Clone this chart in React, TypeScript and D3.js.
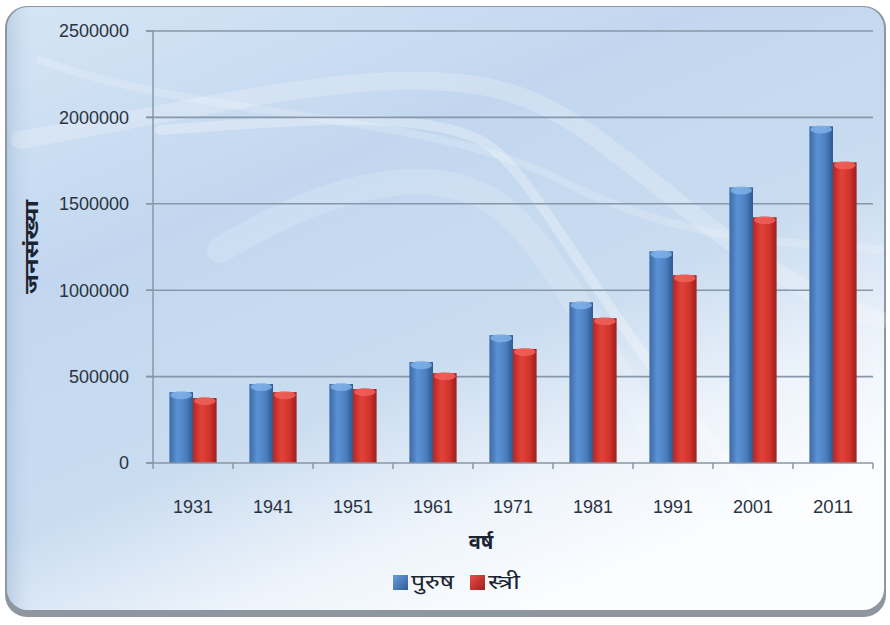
import * as d3 from "d3";

const years = ["1931", "1941", "1951", "1961", "1971", "1981", "1991", "2001", "2011"];
const male = [410000, 457000, 457000, 584000, 740000, 930000, 1225000, 1595000, 1948000];
const female = [376000, 410000, 428000, 520000, 660000, 838000, 1087000, 1422000, 1740000];
const yTicks = [0, 500000, 1000000, 1500000, 2000000, 2500000];
const seriesNames = ["पुरुष", "स्त्री"];

const W = 890;
const H = 625;
const left = 153;
const right = 873;
const top = 31;
const bottom = 463;

const font = "Arial, 'Liberation Sans', sans-serif";
const devFont = "'Noto Sans', 'Noto Sans Devanagari', sans-serif";

export default function App() {
  const x0 = d3.scaleBand<string>().domain(years).range([left, right]).paddingInner(0.41).paddingOuter(0.205);
  const x1 = d3.scaleBand<number>().domain([0, 1]).range([0, x0.bandwidth()]);
  const y = d3.scaleLinear().domain([0, 2500000]).range([bottom, top]);
  const half = (x0.step() - x0.bandwidth()) / 2;
  const bounds = years.map((d) => (x0(d) as number) - half).concat([(x0(years[years.length - 1]) as number) + x0.bandwidth() + half]);

  const series = [male, female];
  const fills = ["url(#gBlue)", "url(#gRed)"];
  const caps = ["#7fb0e8", "#f0605a"];

  return (
    <div style={{ position: "absolute", left: 0, top: 0 }}>
      <svg width={W} height={H} style={{ display: "block" }}>
        <defs>
          <linearGradient id="bg" x1="0" y1="0" x2="0.6" y2="1">
            <stop offset="0%" stopColor="#d6e5f5" />
            <stop offset="35%" stopColor="#c2d7ef" />
            <stop offset="65%" stopColor="#c9dcf0" />
            <stop offset="85%" stopColor="#eef4fb" />
            <stop offset="100%" stopColor="#fbfdff" />
          </linearGradient>
          <linearGradient id="bgLeft" x1="0" y1="0" x2="1" y2="0">
            <stop offset="0%" stopColor="#a9c0dc" stopOpacity="0.6" />
            <stop offset="3%" stopColor="#c9dbef" stopOpacity="0" />
            <stop offset="100%" stopColor="#c9dbef" stopOpacity="0" />
          </linearGradient>
          <linearGradient id="gBlue" x1="0" y1="0" x2="1" y2="0">
            <stop offset="0%" stopColor="#3c6aa6" />
            <stop offset="35%" stopColor="#5d93d6" />
            <stop offset="70%" stopColor="#4a7fc2" />
            <stop offset="100%" stopColor="#30598f" />
          </linearGradient>
          <linearGradient id="gRed" x1="0" y1="0" x2="1" y2="0">
            <stop offset="0%" stopColor="#b52621" />
            <stop offset="35%" stopColor="#e2423a" />
            <stop offset="70%" stopColor="#d0342d" />
            <stop offset="100%" stopColor="#9c1f1b" />
          </linearGradient>
          <linearGradient id="gBlueLeg" x1="0" y1="0" x2="1" y2="1">
            <stop offset="0%" stopColor="#6a9fe0" />
            <stop offset="100%" stopColor="#2f5b94" />
          </linearGradient>
          <linearGradient id="gRedLeg" x1="0" y1="0" x2="1" y2="1">
            <stop offset="0%" stopColor="#ea4d45" />
            <stop offset="100%" stopColor="#a0201c" />
          </linearGradient>
        </defs>

        <rect x={0} y={0} width={W} height={H} fill="#ffffff" />
        <rect x={5} y={6} width={881} height={611} rx={22} fill="#8e969f" />
        <rect x={7} y={7} width={877} height={603} rx={21} fill="url(#bg)" />
        <rect x={7} y={7} width={877} height={603} rx={21} fill="url(#bgLeft)" />

        {/* decorative swooshes */}
        <g fill="none" stroke="#ffffff" strokeLinecap="round">
          <path d="M 20 140 C 200 110, 380 60, 500 90 S 700 260, 880 320" strokeWidth={18} strokeOpacity={0.22} />
          <path d="M 160 130 C 300 120, 420 110, 480 140 S 600 330, 780 520" strokeWidth={10} strokeOpacity={0.28} />
          <path d="M 220 250 C 320 190, 420 160, 490 200 S 620 400, 740 560" strokeWidth={26} strokeOpacity={0.16} />
          <path d="M 40 60 C 200 120, 420 110, 560 180 S 800 240, 880 250" strokeWidth={8} strokeOpacity={0.18} />
        </g>

        {/* gridlines */}
        {yTicks.filter((t) => t > 0).map((t) => (
          <line key={t} x1={left - 7} x2={right} y1={y(t)} y2={y(t)} stroke="#8797aa" strokeWidth={1.6} />
        ))}

        {/* bars */}
        {series.map((vals, si) => (
          <g key={si}>
            {years.map((yr, i) => {
              const bx = (x0(yr) as number) + (x1(si) as number);
              const bw = x1.bandwidth();
              const by = y(vals[i]);
              return (
                <g key={yr}>
                  <rect x={bx} y={by} width={bw} height={bottom - by} fill={fills[si]} />
                  <ellipse cx={bx + bw / 2} cy={by + 3} rx={bw / 2 - 1} ry={4} fill={caps[si]} opacity={0.85} />
                </g>
              );
            })}
          </g>
        ))}

        {/* axes */}
        <line x1={left} x2={left} y1={top} y2={bottom} stroke="#8a96a3" strokeWidth={1.5} />
        <line x1={left - 7} x2={right} y1={bottom} y2={bottom} stroke="#8a96a3" strokeWidth={1.5} />
        {yTicks.map((t) => (
          <line key={t} x1={left - 7} x2={left} y1={y(t)} y2={y(t)} stroke="#8a96a3" strokeWidth={1.5} />
        ))}
        {bounds.map((bx, i) => (
          <line key={i} x1={bx} x2={bx} y1={bottom} y2={bottom + 6} stroke="#8a96a3" strokeWidth={1.5} />
        ))}

        {yTicks.map((t) => (
          <text key={t} x={129} y={y(t)} dy="0.36em" textAnchor="end" fontFamily={font} fontSize={18} fill="#2b3340">
            {t}
          </text>
        ))}
        {years.map((yr) => (
          <text key={yr} x={(x0(yr) as number) + x0.bandwidth() / 2} y={507} dy="0.36em" textAnchor="middle" fontFamily={font} fontSize={18} textLength={40} lengthAdjust="spacingAndGlyphs" fill="#2b3340">
            {yr}
          </text>
        ))}

        <text transform="translate(31,247) rotate(-90)" textAnchor="middle" dy="0.35em" fontFamily={devFont} fontWeight="bold" fontSize={19} textLength={94} lengthAdjust="spacingAndGlyphs" fill="#1c2430">
          जनसंख्या
        </text>
        <text x={481} y={542} textAnchor="middle" dy="0.35em" fontFamily={devFont} fontWeight="bold" fontSize={20} fill="#1c2430">
          वर्ष
        </text>

        {/* legend */}
        <rect x={393} y={575} width={15} height={15} fill="url(#gBlueLeg)" />
        <text x={411} y={582} dy="0.35em" fontFamily={devFont} fontSize={20} textLength={43} lengthAdjust="spacingAndGlyphs" fill="#1c2430">{seriesNames[0]}</text>
        <rect x={470} y={575} width={15} height={15} fill="url(#gRedLeg)" />
        <text x={488} y={582} dy="0.35em" fontFamily={devFont} fontSize={20} textLength={32} lengthAdjust="spacingAndGlyphs" fill="#1c2430">{seriesNames[1]}</text>
      </svg>
    </div>
  );
}
